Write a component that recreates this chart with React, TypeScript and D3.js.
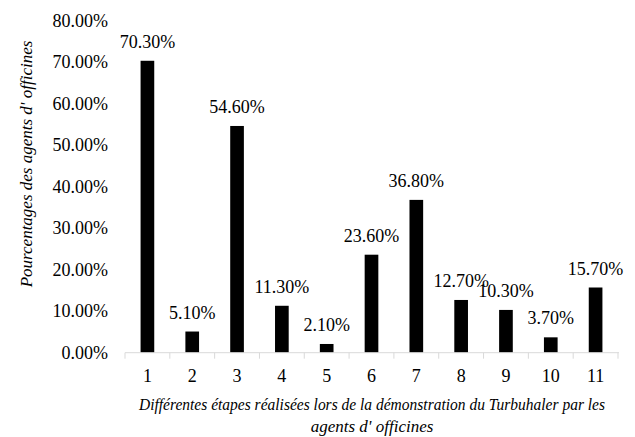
import React from "react";
import * as d3 from "d3";

const categories = ["1", "2", "3", "4", "5", "6", "7", "8", "9", "10", "11"];
const values = [70.3, 5.1, 54.6, 11.3, 2.1, 23.6, 36.8, 12.7, 10.3, 3.7, 15.7];
const yTicks = [0, 10, 20, 30, 40, 50, 60, 70, 80];
const yTitle = "Pourcentages des agents d' officines";
const xTitleLines = [
  "Différentes étapes réalisées lors de la démonstration du Turbuhaler par les",
  "agents d' officines",
];

const W = 635;
const H = 437;
const LEFT = 125;
const RIGHT = 618;
const TOP = 20.5;
const BOTTOM = 352.7;
const FONT = "Liberation Serif";

export default function App() {
  const x = d3.scaleBand<string>().domain(categories).range([LEFT, RIGHT]).paddingInner(0).paddingOuter(0);
  const y = d3.scaleLinear().domain([0, 80]).range([BOTTOM, TOP]);
  const barW = x.bandwidth() * 0.305;
  const cx = (c: string) => (x(c) as number) + x.bandwidth() / 2;
  const tickXs = categories.map((c) => x(c) as number).concat([RIGHT]);

  return (
    <div style={{ position: "absolute", left: 0, top: 0, width: W, height: H, background: "#fff" }}>
      <svg width={W} height={H} fontFamily={FONT}>
        {yTicks.map((t) => (
          <text key={t} x={108} y={y(t) + 6} textAnchor="end" fontFamily={FONT} fontSize={18} fill="#000">
            {t.toFixed(2) + "%"}
          </text>
        ))}
        {categories.map((c, i) => (
          <rect key={c} x={cx(c) - barW / 2} y={y(values[i])} width={barW} height={BOTTOM - y(values[i])} fill="#000" />
        ))}
        {categories.map((c, i) => (
          <text key={"l" + c} x={cx(c)} y={y(values[i]) - 13} textAnchor="middle" fontFamily={FONT} fontSize={18} fill="#000">
            {values[i].toFixed(2) + "%"}
          </text>
        ))}
        <line x1={LEFT} x2={RIGHT + 1} y1={BOTTOM} y2={BOTTOM} stroke="#d9d9d9" strokeWidth={1} />
        {tickXs.map((tx, i) => (
          <line key={"t" + i} x1={tx} x2={tx} y1={BOTTOM} y2={BOTTOM + 6} stroke="#d9d9d9" strokeWidth={1} />
        ))}
        {categories.map((c) => (
          <text key={"x" + c} x={cx(c)} y={382} textAnchor="middle" fontFamily={FONT} fontSize={18} fill="#000">
            {c}
          </text>
        ))}
        <text x={372} y={410} textAnchor="middle" fontFamily={FONT} fontStyle="italic" fontSize={17} fill="#000"
          textLength={466} lengthAdjust="spacingAndGlyphs">
          {xTitleLines[0]}
        </text>
        <text x={372} y={432} textAnchor="middle" fontFamily={FONT} fontStyle="italic" fontSize={17} fill="#000">
          {xTitleLines[1]}
        </text>
        <text transform="translate(32,164) rotate(-90)" textAnchor="middle" fontFamily={FONT} fontStyle="italic"
          fontSize={17} fill="#000">
          {yTitle}
        </text>
      </svg>
    </div>
  );
}
